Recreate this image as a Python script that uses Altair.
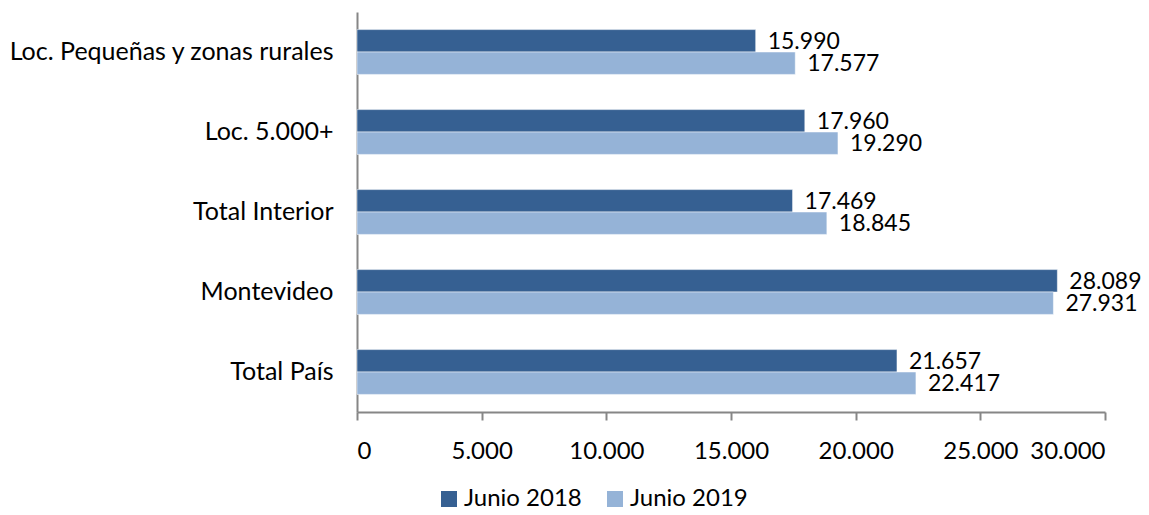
import altair as alt
import pandas as pd

categories = ["Loc. Pequeñas y zonas rurales", "Loc. 5.000+", "Total Interior", "Montevideo", "Total País"]
series = ["Junio 2018", "Junio 2019"]
values_2018 = [15990, 17960, 17469, 28089, 21657]
values_2019 = [17577, 19290, 18845, 27931, 22417]
x_ticks = [0, 5000, 10000, 15000, 20000, 25000, 30000]
colors = ["#366092", "#95B3D7"]

rows = []
for c, a, b in zip(categories, values_2018, values_2019):
    rows.append({"cat": c, "serie": series[0], "value": a})
    rows.append({"cat": c, "serie": series[1], "value": b})
df = pd.DataFrame(rows)

FONT = "Lato"
FS = 24

y_enc = alt.Y("cat:N", sort=categories, title=None,
              scale=alt.Scale(paddingInner=0.44, paddingOuter=0.22),
              axis=alt.Axis(domainColor="#868686", domainWidth=2, ticks=False,
                            labelPadding=24, labelFont=FONT, labelFontSize=25,
                            labelColor="#000000", labelLimit=400))
yoff = alt.YOffset("serie:N", sort=series, scale=alt.Scale(paddingInner=0, paddingOuter=0))

base = alt.Chart(df)

bars = base.mark_bar(stroke="white", strokeWidth=0.5).encode(
    y=y_enc,
    yOffset=yoff,
    x=alt.X("value:Q", title=None,
            scale=alt.Scale(domain=[0, 30000], nice=False),
            axis=alt.Axis(values=x_ticks, grid=False, domainColor="#868686", domainWidth=2,
                          tickColor="#868686", tickWidth=2, tickSize=8, labelPadding=19,
                          labelFont=FONT, labelFontSize=FS, labelColor="#000000",
                          labelExpr="replace(format(datum.value, ','), ',', '.')")),
    color=alt.Color("serie:N", sort=series, title=None,
                    scale=alt.Scale(domain=series, range=colors),
                    legend=alt.Legend(orient="none", legendX=80, legendY=475, direction="horizontal",
                                      symbolType="square", symbolSize=256, symbolStrokeWidth=0,
                                      labelFont=FONT, labelFontSize=FS, labelColor="#000000",
                                      columnPadding=21, labelOffset=3)),
)

texts = base.transform_calculate(
    lbl="replace(format(datum.value, ','), ',', '.')"
).mark_text(align="left", baseline="middle", dx=12, dy=1, font=FONT, fontSize=23, color="#000000").encode(
    y=alt.Y("cat:N", sort=categories),
    yOffset=yoff,
    x=alt.X("value:Q"),
    text="lbl:N",
)

chart = alt.layer(bars, texts).properties(
    width=748, height=400,
    autosize=alt.AutoSizeParams(type="none"),
    padding={"left": 349, "top": 4, "right": 36, "bottom": 95},
).configure(background="white").configure_view(stroke=None)

chart.save("out.html", embed_options={"renderer": "svg", "actions": False})
